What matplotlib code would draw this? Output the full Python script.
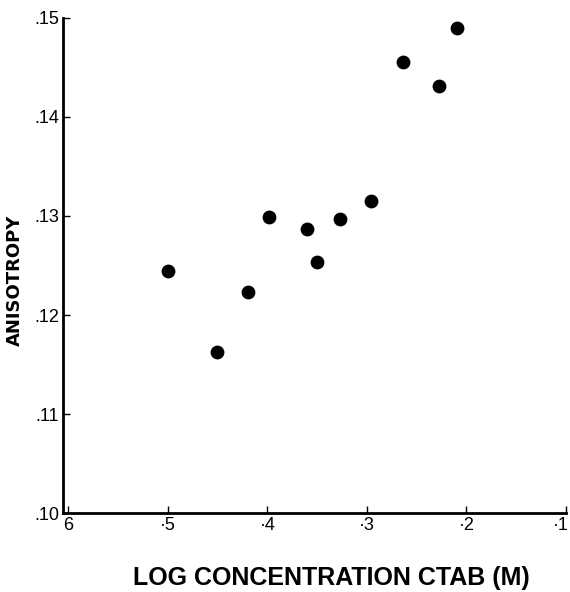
import matplotlib
matplotlib.use("Agg")
import matplotlib.pyplot as plt
from matplotlib.transforms import ScaledTranslation

log_conc = [-5.00, -4.51, -4.19, -3.98, -3.60, -3.50, -3.27, -2.96, -2.64, -2.28, -2.09]
anisotropy = [0.1244, 0.1163, 0.1223, 0.1299, 0.1287, 0.1254, 0.1297, 0.1315, 0.1455, 0.1431, 0.1490]

x_ticks = [-6, -5, -4, -3, -2, -1]
x_labels = ["6", "·5", "·4", "·3", "·2", "·1"]
y_ticks = [0.10, 0.11, 0.12, 0.13, 0.14, 0.15]
y_labels = [".10", ".11", ".12", ".13", ".14", ".15"]

plt.rcParams['font.family'] = ['Liberation Sans', 'DejaVu Sans']

fig = plt.figure(figsize=(5.70, 5.92), dpi=100)
ax = fig.add_axes([0.111, 0.133, 0.882, 0.837])

ax.scatter(log_conc, anisotropy, s=80, color="black", zorder=3)

ax.set_xlim(-6.05, -1)
ax.set_ylim(0.10, 0.15)
ax.set_xticks(x_ticks)
ax.set_xticklabels(x_labels, fontsize=13)
ax.set_yticks(y_ticks)
ax.set_yticklabels(y_labels, fontsize=13)
ax.tick_params(direction="in", length=5, width=1, pad=3)

# last label is pulled in from the edge
xlabs = ax.get_xticklabels()
xlabs[-1].set_transform(xlabs[-1].get_transform() + ScaledTranslation(-4 / 72, 0, fig.dpi_scale_trans))

for side in ["top", "right"]:
    ax.spines[side].set_visible(False)
for side in ["left", "bottom"]:
    ax.spines[side].set_linewidth(2)

ax.set_xlabel("LOG CONCENTRATION CTAB (M)", fontsize=18, fontweight="bold")
ax.xaxis.set_label_coords(0.533, -0.107)
ax.set_ylabel("ANISOTROPY", fontsize=13, fontweight="bold", family="DejaVu Sans")
ax.yaxis.set_label_coords(-0.079, 0.47)

fig.savefig("out.png", dpi=100)
